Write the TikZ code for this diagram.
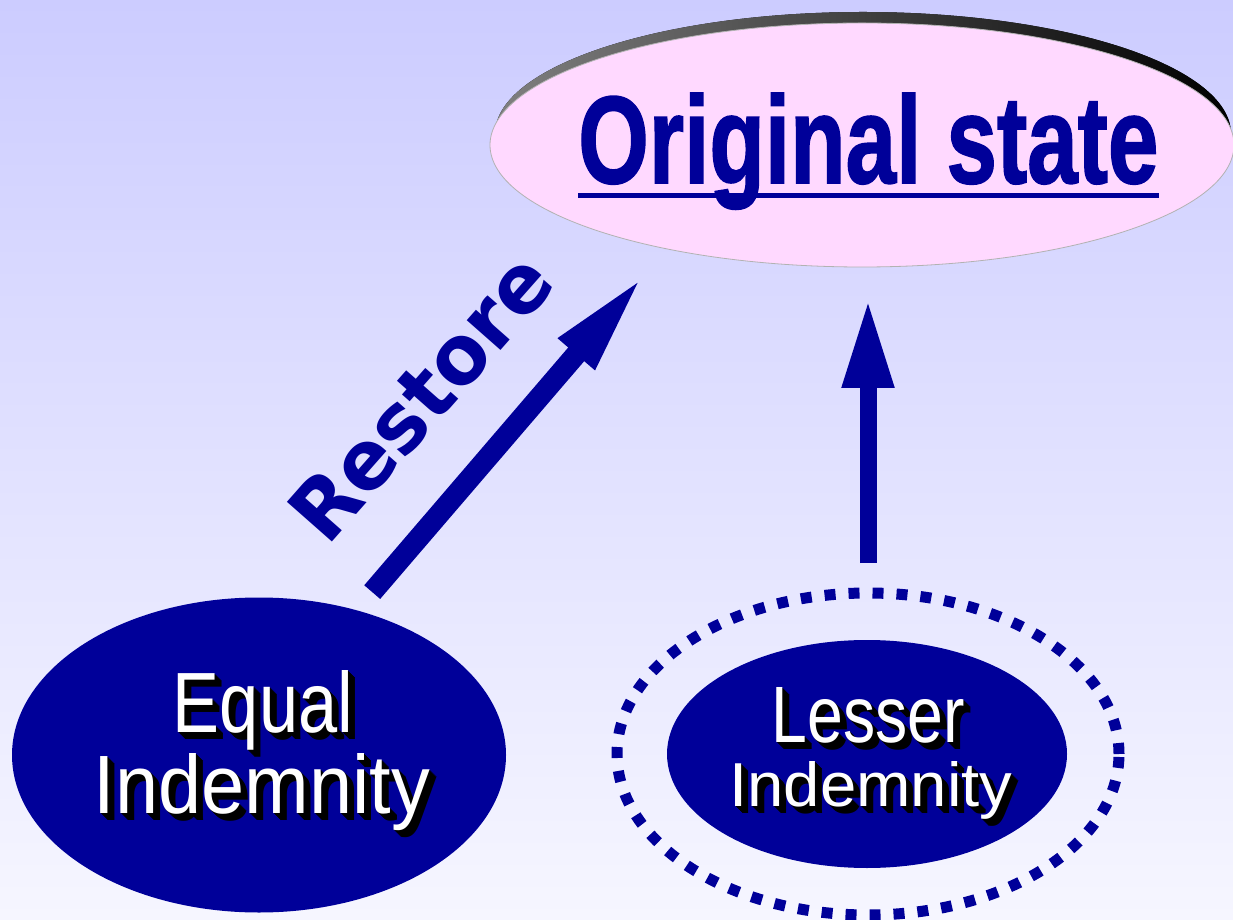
\documentclass[tikz,border=0pt]{standalone}
\usepackage{fontspec}
\usepackage{graphicx}
\setmainfont{Liberation Sans}
\newfontfamily\titlefont{Liberation Sans}[UprightFont={* Bold},FakeBold=1.5]
\newfontfamily\labelfont{Liberation Sans}
\newfontfamily\restorefont{DejaVu Sans}
\usetikzlibrary{shapes.geometric,arrows.meta,positioning}

\definecolor{navy}{RGB}{0,0,153}
\definecolor{pinkfill}{RGB}{255,217,255}
\definecolor{bgtop}{RGB}{204,204,255}
\definecolor{bgbot}{RGB}{246,246,255}

% white label with a black cast shadow: name, position, width, height, text
\newcommand{\castlabel}[5]{%
  \foreach \off in {1,...,7}
    \node[lbl,text=black] at ([shift={(\off,-\off)}]#2) {\resizebox{#3}{#4}{#5}};
  \node[lbl,text=white] (#1) at (#2) {\resizebox{#3}{#4}{#5}};
}

\begin{document}
\begin{tikzpicture}[x=1pt,y=1pt]
  \tikzset{
    blob/.style={ellipse,fill=navy,inner sep=0pt,outer sep=0pt},
    lbl/.style={anchor=base,inner sep=0pt,font=\labelfont},
    restorearrow/.style={draw=navy,line width=21pt,-{Triangle[length=108pt,width=42pt]}},
    risearrow/.style={draw=navy,line width=17pt,-{Triangle[length=89pt,width=48pt]}}
  }
  \useasboundingbox (0,0) rectangle (1233,919);
  \fill[top color=bgtop,bottom color=bgbot] (0,0) rectangle (1233,919);

  % states
  \node[ellipse,inner sep=0pt,outer sep=0pt,minimum width=744pt,minimum height=244pt] (orig) at (862,774) {};
  \fill[left color=black!50,right color=black] ([shift={(1,11)}]orig.center) ellipse (368 and 122);
  \node[ellipse,draw=gray!60,line width=0.8pt,fill=pinkfill,inner sep=0pt,outer sep=0pt,
        minimum width=744pt,minimum height=244pt] at (orig) {};
  \node[blob,minimum width=494pt,minimum height=315pt] (equal) at (259,164) {};
  \node[blob,minimum width=400pt,minimum height=228pt] (lesser) at (867,165) {};
  \node[ellipse,draw=navy,line width=11pt,dash pattern=on 11pt off 13pt,inner sep=0pt,outer sep=0pt,
        minimum width=502pt,minimum height=322pt] (ring) at (868,165) {};

  % texts
  \node[anchor=base west,inner sep=0pt,text=navy,font=\titlefont] (title) at (578,736)
       {\resizebox{580pt}{90pt}{Original state}};
  \draw[navy,line width=5pt] ([yshift=-12.5pt]title.base west) -- ([yshift=-12.5pt]title.base east);
  \castlabel{equalA}{263,187}{180pt}{62pt}{Equal}
  \castlabel{equalB}{262,106}{336pt}{60pt}{Indemnity}
  \castlabel{lesserA}{868,177}{193pt}{55pt}{Lesser}
  \castlabel{lesserB}{871,113}{283pt}{45pt}{Indemnity}

  % arrows
  \draw[restorearrow,shorten <=24pt,shorten >=31pt] (equal.56.7) -- (orig.208.8);
  \node[rotate=48.6,anchor=base west,inner sep=0pt,text=navy,font=\restorefont\bfseries] (restore)
       at (327,371) {\resizebox{350pt}{60pt}{Restore}};
  \draw[risearrow,shorten <=30pt,shorten >=32pt] (ring.north) -- (ring.north |- orig.south);
\end{tikzpicture}
\end{document}
